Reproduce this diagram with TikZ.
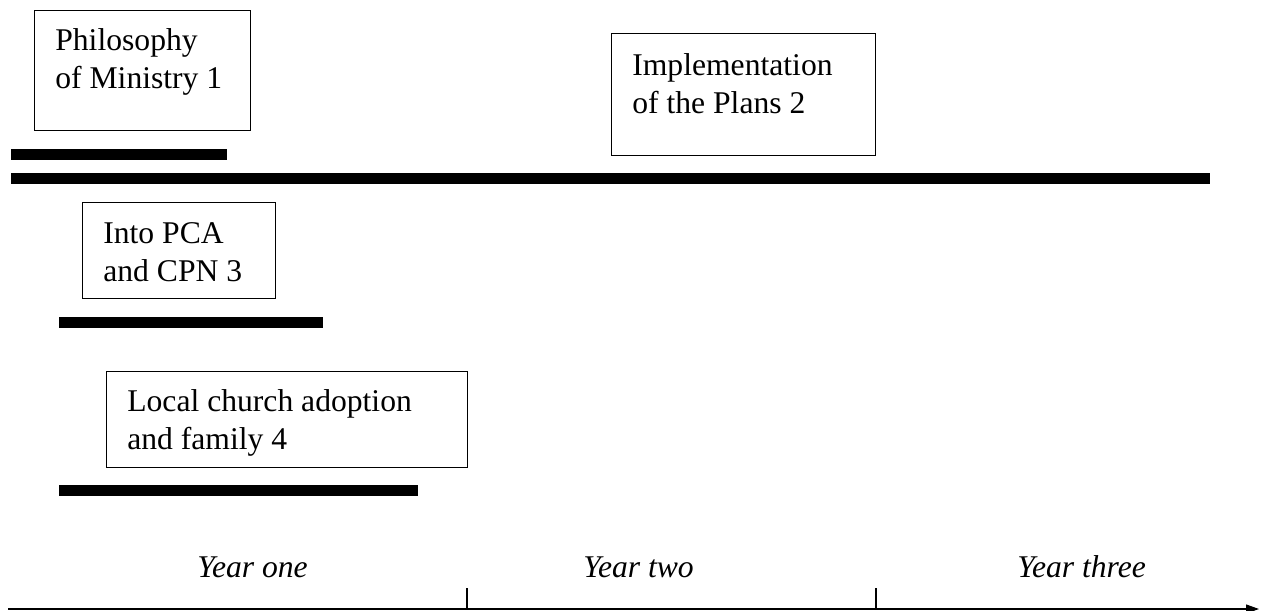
\documentclass[tikz,border=0pt]{standalone}
\usepackage{fontspec}
\setmainfont{Liberation Serif}
\usetikzlibrary{arrows.meta, positioning}

\tikzset{
  fase/.style={draw, line width=0.75pt, anchor=north west, inner sep=0pt},
  testo/.style={anchor=north west, align=left, inner sep=0pt,
    font=\fontsize{18}{21.5}\selectfont},
  barra/.style={line width=0.22cm},
  anno/.style={anchor=base west, inner sep=0pt,
    font=\fontsize{18}{21.5}\selectfont\itshape},
}

\begin{document}
\begin{tikzpicture}[x=0.02cm, y=-0.02cm]
  \useasboundingbox (0,0) rectangle (1261,611);

  % riquadri delle fasi
  \node[fase, minimum width=4.32cm, minimum height=2.40cm] (filosofia) at (34,10) {};
  \node[fase, minimum width=5.28cm, minimum height=2.44cm] (piani) at (611,33) {};
  \node[fase, minimum width=3.86cm, minimum height=1.92cm] (pca) at (82,202) {};
  \node[fase, minimum width=7.22cm, minimum height=1.92cm] (chiesa) at (106,371) {};

  % testi dentro i riquadri
  \node[testo, below right=0.36cm and 0.42cm of filosofia.north west, anchor=north west] (tFilosofia) {Philosophy\\of Ministry 1};
  \node[testo, below right=0.40cm and 0.42cm of piani.north west, anchor=north west] (tPiani) {Implementation\\of the Plans 2};
  \node[testo, below right=0.40cm and 0.42cm of pca.north west, anchor=north west] (tPca) {Into PCA\\and CPN 3};
  \node[testo, below right=0.36cm and 0.42cm of chiesa.north west, anchor=north west] (tChiesa) {Local church adoption\\and family 4};

  % barre di durata
  \draw[barra] (11,154.5) -- (227,154.5);
  \draw[barra] (11,178.5) -- (1210,178.5);
  \draw[barra] (59,322.5) -- (323,322.5);
  \draw[barra] (59,490.5) -- (418,490.5);

  % asse dei tempi
  \coordinate (inizio) at (8,609);
  \coordinate (fine) at (1259,609);
  \draw[line width=0.7pt, -{Triangle[length=0.26cm, width=0.18cm]}] (inizio) -- (fine);
  \draw[line width=0.7pt] (467,609) -- (467,588);
  \draw[line width=0.7pt] (876,609) -- (876,588);

  \node[anno] (anno1) at (197,577) {Year one};
  \node[anno] (anno2) at (583,577) {Year two};
  \node[anno] (anno3) at (1017,577) {Year three};
\end{tikzpicture}
\end{document}
